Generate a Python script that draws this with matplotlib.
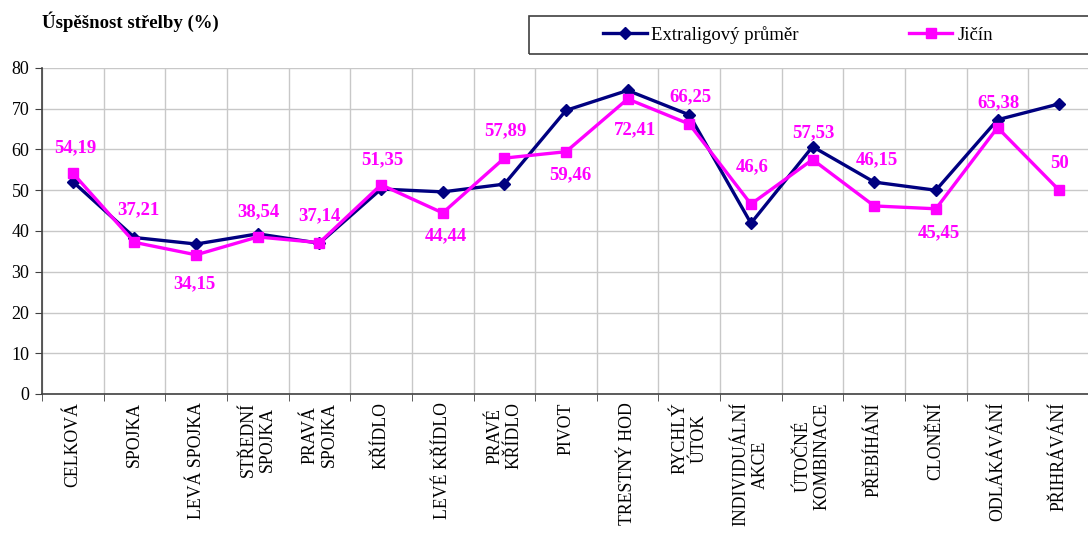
import matplotlib.pyplot as plt
from matplotlib.patches import Rectangle

plt.rcParams['font.family'] = ['Liberation Serif', 'DejaVu Serif']

# data
kategorie = ["CELKOVÁ", "SPOJKA", "LEVÁ SPOJKA", "STŘEDNÍ\nSPOJKA", "PRAVÁ\nSPOJKA",
             "KŘÍDLO", "LEVÉ KŘÍDLO", "PRAVÉ\nKŘÍDLO", "PIVOT", "TRESTNÝ HOD",
             "RYCHLÝ\nÚTOK", "INDIVIDUÁLNÍ\nAKCE", "ÚTOČNÉ\nKOMBINACE", "PŘEBÍHÁNÍ",
             "CLONĚNÍ", "ODLÁKÁVÁNÍ", "PŘIHRÁVÁNÍ"]
extraliga = [52.1, 38.4, 36.8, 39.3, 37.0, 50.3, 49.6, 51.5, 69.6, 74.5,
             68.5, 41.9, 60.7, 52.0, 50.0, 67.3, 71.2]
jicin = [54.19, 37.21, 34.15, 38.54, 37.14, 51.35, 44.44, 57.89, 59.46, 72.41,
         66.25, 46.6, 57.53, 46.15, 45.45, 65.38, 50]
y_ticks = [0, 10, 20, 30, 40, 50, 60, 70, 80]

# where each data label sits relative to its point (pixels, + = down)
posun_dy = [-25, -33, 29, -25, -27, -25, 23, -27, 23, 31, -27, -37, -27, -46, 24, -25, -27]
posun_dx = [2, 4, -2, 1, 0, 1, 3, 1, 4, 7, 1, 1, 1, 3, 3, 1, 0]

W, H = 1088, 533
fig = plt.figure(figsize=(W / 100, H / 100), dpi=100)
ax = fig.add_axes([42 / W, 139 / H, 1048 / W, 326 / H])

x = list(range(len(kategorie)))
ax.plot(x, extraliga, color='#000080', lw=2.4, marker='D', ms=6.5, label='Extraligový průměr')
ax.plot(x, jicin, color='#FF00FF', lw=2.4, marker='s', ms=7.5, label='Jičín')

for i, v in enumerate(jicin):
    txt = ('%g' % v).replace('.', ',')
    ax.annotate(txt, (i, v), xytext=(posun_dx[i] * 0.72, -posun_dy[i] * 0.72),
                textcoords='offset points', ha='center', va='center',
                color='#FF00FF', fontsize=13.5, fontweight='bold')

ax.set_xlim(-0.5, len(kategorie) - 0.5)
ax.set_ylim(0, 80)
ax.set_yticks(y_ticks)
ax.set_xticks(x)
ax.set_xticklabels(kategorie, rotation=90, ha='center', va='top',
                   multialignment='center', fontsize=12.8)
ax.set_xticks([i + 0.5 for i in range(-1, len(kategorie))], minor=True)
ax.tick_params(axis='x', which='major', length=0, pad=6)
ax.tick_params(axis='x', which='minor', length=5, direction='out', color='#404040')
ax.tick_params(axis='y', length=5, direction='out', labelsize=13, pad=4, color='#404040')
ax.grid(True, which='minor', axis='x', color='#c8c8c8', lw=1)
ax.grid(True, which='major', axis='y', color='#c8c8c8', lw=1)
ax.set_axisbelow(True)
for s in ['top', 'right']:
    ax.spines[s].set_visible(False)
for s in ['left', 'bottom']:
    ax.spines[s].set_color('#404040')
    ax.spines[s].set_linewidth(1.2)

fig.text(42 / W, 1 - 22 / H, 'Úspěšnost střelby (%)', fontsize=13.5, fontweight='bold',
         ha='left', va='center')

# legend box
fig.add_artist(Rectangle((529 / W, 1 - 54 / H), 570 / W, 38 / H, transform=fig.transFigure,
                         fill=False, edgecolor='#404040', lw=1.2))
fig.legend(loc='center left', bbox_to_anchor=(594 / W, 1 - 35 / H), ncol=2, frameon=False,
           fontsize=13.5, handlelength=2.3, handletextpad=0.25, columnspacing=5.9, borderpad=0)

fig.savefig('out.png', dpi=100)
